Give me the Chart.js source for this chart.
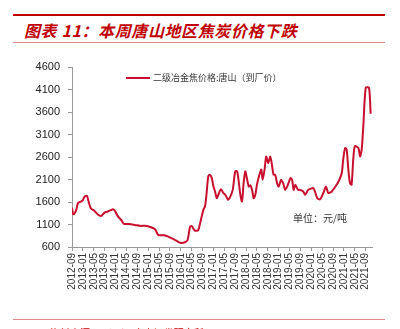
<!DOCTYPE html>
<html><head><meta charset="utf-8">
<script src="https://cdn.jsdelivr.net/npm/chart.js@4/dist/chart.umd.min.js"></script>
<style>
html,body{margin:0;padding:0;background:#fff;}
#wrap{position:relative;width:400px;height:329px;overflow:hidden;font-family:"Noto Sans CJK SC","Noto Sans",sans-serif;}
#topline{position:absolute;left:13px;top:14px;width:372px;height:2px;background:#c00000;}
#title{position:absolute;left:24px;top:20px;font-size:16px;font-weight:bold;font-style:italic;color:#c00000;letter-spacing:0.6px;white-space:nowrap;line-height:20px;}
#subline{position:absolute;left:13px;top:42px;width:372px;height:1px;background:#e28a8a;}
#botline{position:absolute;left:13px;top:319px;width:372px;height:1px;background:#e28a8a;}
#source{position:absolute;left:50px;top:327px;font-size:10px;color:#c00000;white-space:nowrap;line-height:12px;}
#legend{position:absolute;left:126px;top:72px;font-size:9px;color:#333;white-space:nowrap;line-height:12px;}
#legend span.l{display:inline-block;width:24px;height:2px;background:#c8102e;vertical-align:middle;margin-right:3px;position:relative;top:-1px;}
#unit{position:absolute;left:293px;top:211px;font-size:10px;color:#333;white-space:nowrap;line-height:13px;}
canvas{position:absolute;left:0;top:0;}
</style></head>
<body><div id="wrap">
<div id="topline"></div>
<div id="title">图表 11：本周唐山地区焦炭价格下跌</div>
<div id="subline"></div>
<canvas id="c" width="400" height="329"></canvas>
<div id="legend"><span class="l"></span>二级冶金焦价格:唐山（到厂价）</div>
<div id="unit">单位：元/吨</div>
<div id="botline"></div>
<div id="source">资料来源：Wind，中泰证券研究所</div>
</div>
<script>
// x positions: months since 2012-09
const months = [0,0.4,0.9,1.6,2.2,3.3,4.0,4.6,5.5,6.1,6.9,8.1,9.6,10.7,12.0,13.2,15.1,15.7,16.9,18.1,19.1,20.6,23.1,25.0,26.8,27.9,30.5,31.7,33.8,35.4,37.9,39.7,41.5,42.5,43.4,44.0,45.2,46.4,47.1,48.3,48.9,49.5,50.1,50.7,51.4,52.0,52.6,53.2,53.8,54.8,55.6,56.4,57.4,58.2,59.1,60.0,60.7,61.3,61.9,62.5,63.1,63.7,64.3,65.0,65.6,66.2,66.8,67.4,68.0,68.9,69.6,70.1,70.8,71.4,72.1,72.9,73.5,74.1,74.7,75.4,76.0,76.9,77.8,78.4,79.4,80.3,80.9,81.5,82.1,83.1,83.8,85.0,85.7,86.9,88.7,89.3,90.2,91.2,92.4,93.4,94.2,95.5,97.3,98.3,99.2,99.7,100.4,101.0,101.6,102.2,102.8,103.4,104.0,105.3,105.9,106.5,107.1,108.0,109.2,109.8];
const prices = [1470,1330,1340,1430,1580,1610,1640,1720,1735,1610,1460,1410,1315,1290,1365,1390,1440,1410,1280,1200,1115,1110,1090,1070,1070,1060,995,870,860,830,755,695,705,755,1050,1065,965,975,1130,1425,1500,1800,2170,2205,2130,1945,1835,1685,1760,1885,1800,1760,1650,1720,1870,2280,2280,2055,1760,1610,2020,2280,2130,1945,1970,1870,1685,1760,1985,2205,2320,2095,2320,2610,2465,2610,2430,2205,2205,2020,1945,2095,1985,1870,1985,2130,2095,1870,1985,1870,1870,1835,1760,1870,1910,1835,1685,1660,1800,1945,1800,1835,1985,2095,2245,2540,2800,2760,2320,2020,1985,2540,2840,2800,2610,2760,3280,4140,4140,3560];
const tickLabels = ["2012-09","2013-01","2013-05","2013-09","2014-01","2014-05","2014-09","2015-01","2015-05","2015-09","2016-01","2016-05","2016-09","2017-01","2017-05","2017-09","2018-01","2018-05","2018-09","2019-01","2019-05","2019-09","2020-01","2020-05","2020-09","2021-01","2021-05","2021-09"];
const yTicks = [600,1100,1600,2100,2600,3100,3600,4100,4600];
const seriesName = "二级冶金焦价格:唐山（到厂价）";

const pts = months.map((m,i)=>({x:m,y:prices[i]}));
new Chart(document.getElementById('c'),{
  type:'line',
  data:{datasets:[{label:seriesName,data:pts,borderColor:'#c8102e',borderWidth:2,pointRadius:0,tension:0.25,fill:false}]},
  options:{
    responsive:false,animation:false,
    layout:{padding:{left:0,top:67,right:28,bottom:32}},
    plugins:{legend:{display:false},tooltip:{enabled:false}},
    scales:{
      x:{type:'linear',min:0,max:110.3,
        afterFit:s=>{s.height=50;},
        afterBuildTicks:s=>{s.ticks=tickLabels.map((t,i)=>({value:i*4}));},
        border:{color:'#999',width:1},
        grid:{drawOnChartArea:false,tickLength:4,color:'#999'},
        ticks:{minRotation:90,maxRotation:90,autoSkip:false,color:'#333',padding:2,font:{family:'"Liberation Sans", Arial, sans-serif',size:10},callback:v=>tickLabels[Math.round(v/4)]}
      },
      y:{min:600,max:4600,
        afterFit:s=>{s.width=72;},
        afterBuildTicks:s=>{s.ticks=yTicks.map(v=>({value:v}));},
        border:{color:'#999',width:1},
        grid:{drawOnChartArea:false,tickLength:4,color:'#999'},
        ticks:{color:'#222',padding:8,font:{family:'"Liberation Sans", Arial, sans-serif',size:11},callback:v=>String(v)}
      }
    }
  }
});
</script>
</body></html>
